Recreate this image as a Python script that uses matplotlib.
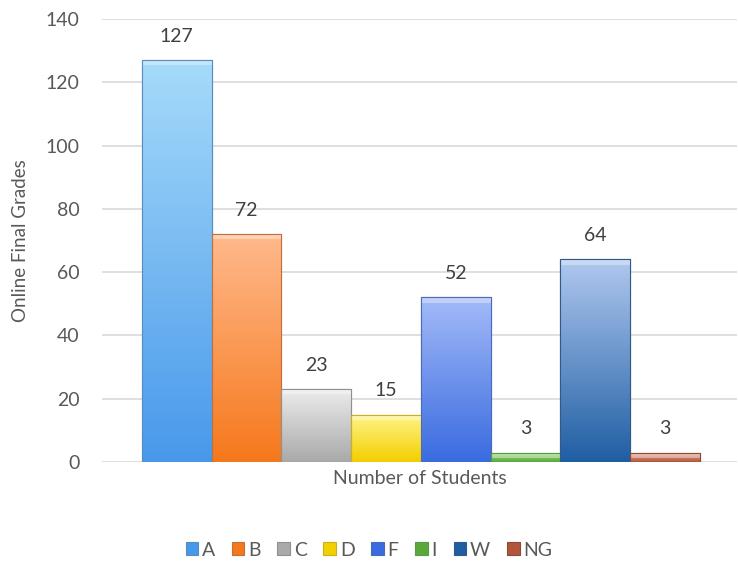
import matplotlib
matplotlib.use("Agg")
import matplotlib.pyplot as plt
import numpy as np
from matplotlib.colors import LinearSegmentedColormap
from matplotlib.patches import Rectangle

plt.rcParams['font.family'] = ['Lato', 'DejaVu Sans']

grades = ['A', 'B', 'C', 'D', 'F', 'I', 'W', 'NG']
counts = [127, 72, 23, 15, 52, 3, 64, 3]
top_colors = ['#a6dbfa', '#ffb98c', '#ececec', '#fff48a', '#a3baf8', '#a6e08a', '#b0c8ef', '#eeb29e']
bot_colors = ['#4898ea', '#f6781c', '#a9a9a9', '#f3cf00', '#3a6be0', '#5aa83a', '#1f5ea3', '#b2553a']
edge_colors = ['#5a8cc0', '#c0703a', '#909090', '#c8b020', '#4a6cb8', '#5a9a40', '#2f5a8a', '#8a4a38']

text_color = '#595959'
fig = plt.figure(figsize=(7.38, 5.64), dpi=100)
ax = fig.add_axes([102/738, 1-462/564, (737-102)/738, (462-19)/564])

x = np.arange(len(grades))
bars = ax.bar(x, counts, width=1.0, color=bot_colors, edgecolor=edge_colors,
              linewidth=0.8, zorder=3)

ax.set_xlim(-0.5-0.57, 7.5+0.53)
ax.set_ylim(0, 140)

for b, tc, bc, ec in zip(bars, top_colors, bot_colors, edge_colors):
    x0, y0 = b.get_x(), b.get_y()
    w, h = b.get_width(), b.get_height()
    cmap = LinearSegmentedColormap.from_list('g', [bc, tc])
    grad = np.linspace(0, 1, 256).reshape(-1, 1)
    im = ax.imshow(grad, cmap=cmap, aspect='auto', origin='lower',
                   extent=[x0, x0 + w, y0, y0 + h], zorder=3.5)
    im.set_clip_path(b)
    bev = min(h, 1.6)
    ax.add_patch(Rectangle((x0, y0 + h - bev), w, bev, facecolor='white', alpha=0.35,
                           edgecolor='none', zorder=3.6))
    ax.add_patch(Rectangle((x0, y0), w, h, facecolor='none', edgecolor=ec,
                           linewidth=0.8, zorder=3.7))

for xi, v in zip(x, counts):
    ax.annotate(str(v), (xi, v), xytext=(0, 11), textcoords='offset points',
                ha='center', va='bottom', fontsize=14, color='#404040')

ax.set_yticks(np.arange(0, 141, 20))
ax.set_xticks([])
ax.grid(axis='y', color='#d9d9d9', linewidth=1.2, zorder=0)
ax.set_axisbelow(True)
for s in ax.spines.values():
    s.set_visible(False)
ax.tick_params(axis='y', length=0, pad=16, labelsize=14, labelcolor=text_color)
ax.set_ylabel('Online Final Grades', fontsize=13.5, color=text_color, labelpad=12)
ax.set_xlabel('Number of Students', fontsize=14, color=text_color, labelpad=6)

handles = [Rectangle((0, 0), 1, 1, facecolor=bc, edgecolor=ec, linewidth=0.8)
           for bc, ec in zip(bot_colors, edge_colors)]
fig.legend(handles, grades, loc='center', bbox_to_anchor=(0.5, 1-550/564), ncol=8,
           frameon=False, fontsize=14, labelcolor=text_color, handlelength=0.65,
           handleheight=0.65, handletextpad=0.2, columnspacing=0.85)

fig.savefig('out.png', dpi=100)
